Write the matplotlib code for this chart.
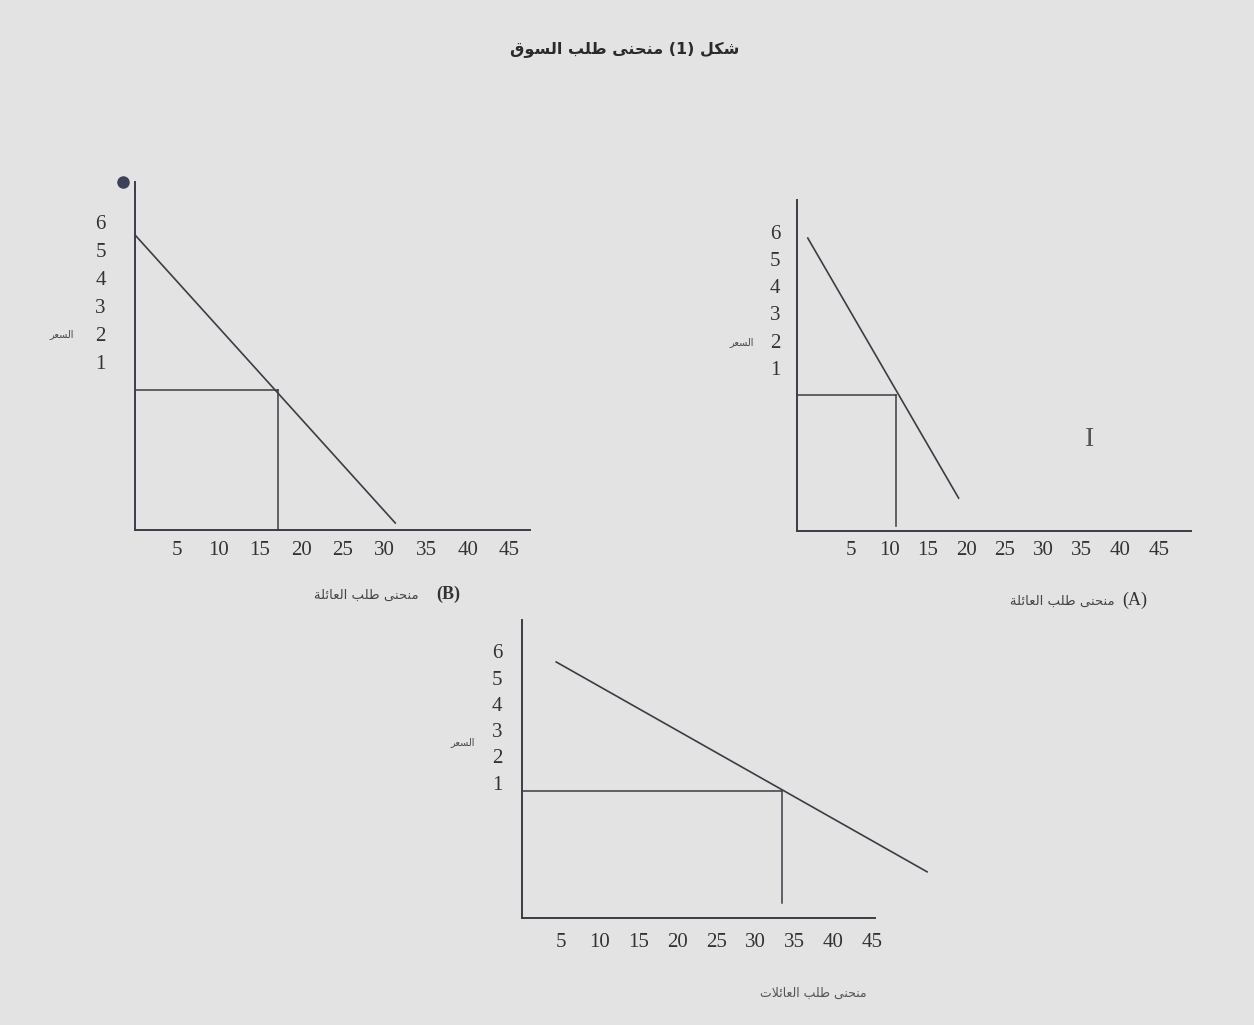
import matplotlib.pyplot as plt

# Arabic text needs shaping by hand (matplotlib draws glyphs left to right, unjoined)
FORMS = {
    'ا': ('\uFE8D', '\uFE8E', None, None),
    'ب': ('\uFE8F', '\uFE90', '\uFE91', '\uFE92'),
    'ت': ('\uFE95', '\uFE96', '\uFE97', '\uFE98'),
    'ة': ('\uFE93', '\uFE94', None, None),
    'ح': ('\uFEA1', '\uFEA2', '\uFEA3', '\uFEA4'),
    'ر': ('\uFEAD', '\uFEAE', None, None),
    'س': ('\uFEB1', '\uFEB2', '\uFEB3', '\uFEB4'),
    'ش': ('\uFEB5', '\uFEB6', '\uFEB7', '\uFEB8'),
    'ط': ('\uFEC1', '\uFEC2', '\uFEC3', '\uFEC4'),
    'ع': ('\uFEC9', '\uFECA', '\uFECB', '\uFECC'),
    'ق': ('\uFED5', '\uFED6', '\uFED7', '\uFED8'),
    'ك': ('\uFED9', '\uFEDA', '\uFEDB', '\uFEDC'),
    'ل': ('\uFEDD', '\uFEDE', '\uFEDF', '\uFEE0'),
    'م': ('\uFEE1', '\uFEE2', '\uFEE3', '\uFEE4'),
    'ن': ('\uFEE5', '\uFEE6', '\uFEE7', '\uFEE8'),
    'و': ('\uFEED', '\uFEEE', None, None),
    'ى': ('\uFEEF', '\uFEF0', None, None),
    'ئ': ('\uFE89', '\uFE8A', '\uFE8B', '\uFE8C'),
}


def shape_word(w):
    # lam + alef ligature
    chars = []
    i = 0
    while i < len(w):
        if w[i] == 'ل' and i + 1 < len(w) and w[i + 1] == 'ا':
            chars.append('LA')
            i += 2
        else:
            chars.append(w[i])
            i += 1
    out = []
    for k, c in enumerate(chars):
        prev = chars[k - 1] if k > 0 else None
        joins_prev = prev is not None and (prev in FORMS and FORMS[prev][2] is not None)
        if c == 'LA':
            out.append('\uFEFC' if joins_prev else '\uFEFB')
            continue
        iso, fin, ini, med = FORMS[c]
        nxt = chars[k + 1] if k + 1 < len(chars) else None
        joins_next = nxt is not None and ini is not None
        if joins_prev and joins_next:
            out.append(med)
        elif joins_prev:
            out.append(fin)
        elif joins_next:
            out.append(ini)
        else:
            out.append(iso)
    return ''.join(out)


def ar(text):
    words = []
    for w in text.split(' '):
        if w and w[0] in FORMS:
            words.append(shape_word(w)[::-1])
        else:
            words.append(w)
    return ' '.join(reversed(words))


# ---- data ----
price_ticks = [1, 2, 3, 4, 5, 6]
qty_ticks = [5, 10, 15, 20, 25, 30, 35, 40, 45]

# family B (left panel)
demand_b_q = [0.0, 31.3]
demand_b_p = [5.54, -4.75]
eq_b_q, eq_b_p, drop_b = 17.2, 0.0, -5.0

# family A (right panel)
demand_a_q = [-0.6, 19.0]
demand_a_p = [5.77, -3.79]
eq_a_q, eq_a_p, drop_a = 10.9, 0.0, -4.8

# all families (bottom panel)
demand_c_q = [4.4, 52.1]
demand_c_p = [5.6, -2.4]
eq_c_q, eq_c_p, drop_c = 33.5, 0.7, -3.6

title = 'شكل (1) منحنى طلب السوق'
ylab = 'السعر'
lab_b = 'منحنى طلب العائلة'
lab_a = 'منحنى طلب العائلة'
lab_c = 'منحنى طلب العائلات'

W, H = 1254, 1025
ink = '#3a3d45'
bg = '#e3e3e3'

fig = plt.figure(figsize=(W / 100, H / 100), dpi=100, facecolor=bg)


def px_axes(left, right, top, bottom):
    return fig.add_axes([left / W, (H - bottom) / H, (right - left) / W, (bottom - top) / H])


def draw_panel(ax, q, p, eq_q, eq_p, drop, xlim, ylim, ypad, xpad, ylab_xy):
    ax.set_facecolor('none')
    ax.set_xlim(*xlim)
    ax.set_ylim(*ylim)
    for s in ['top', 'right']:
        ax.spines[s].set_visible(False)
    for s in ['left', 'bottom']:
        ax.spines[s].set_color(ink)
        ax.spines[s].set_linewidth(1.4)
    ax.plot(q, p, color=ink, lw=1.2, clip_on=False)
    ax.plot([xlim[0], eq_q], [eq_p, eq_p], color=ink, lw=1.1, clip_on=False)
    ax.plot([eq_q, eq_q], [eq_p, drop], color=ink, lw=1.1, clip_on=False)
    ax.set_xticks(qty_ticks)
    ax.set_yticks(price_ticks)
    ax.tick_params(axis='y', length=0, pad=ypad, labelsize=15, labelcolor='#333333')
    ax.tick_params(axis='x', length=0, pad=xpad, labelsize=15, labelcolor='#333333')
    for t in ax.get_xticklabels() + ax.get_yticklabels():
        t.set_fontfamily('Liberation Serif')
    ax.set_ylabel(ar(ylab), rotation=0, fontsize=7, color='#444444',
                  fontfamily='DejaVu Sans')
    ax.yaxis.set_label_coords(*ylab_xy)


ax_b = px_axes(135, 530, 182, 530)
draw_panel(ax_b, demand_b_q, demand_b_p, eq_b_q, eq_b_p, drop_b,
           (0, 47.5), (-5.0, 7.43), 21, 8, (-0.185, 0.55))
ax_b.plot([-1.4], [7.43], 'o', color='#3c4258', ms=8, clip_on=False)

ax_a = px_axes(797, 1191, 200, 531)
draw_panel(ax_a, demand_a_q, demand_a_p, eq_a_q, eq_a_p, drop_a,
           (-2.0, 49.2), (-5.0, 7.17), 12, 7.5, (-0.14, 0.555))

ax_c = px_axes(522, 875, 620, 918)
draw_panel(ax_c, demand_c_q, demand_c_p, eq_c_q, eq_c_p, drop_c,
           (0, 45.4), (-4.16, 7.2), 14, 11, (-0.167, 0.575))

# titles and captions
fig.text(625 / W, 1 - 50 / H, ar(title), ha='center', va='center',
         fontsize=11.5, fontweight='bold', color='#2a2a2a', fontfamily='DejaVu Sans')
fig.text(366 / W, 1 - 595 / H, ar(lab_b), ha='center', va='center',
         fontsize=9.5, color='#444444', fontfamily='DejaVu Sans')
fig.text(448 / W, 1 - 594 / H, '(B)', ha='center', va='center',
         fontsize=13, fontweight='bold', color='#333333', fontfamily='Liberation Serif')
fig.text(1062 / W, 1 - 601 / H, ar(lab_a), ha='center', va='center',
         fontsize=9.5, color='#444444', fontfamily='DejaVu Sans')
fig.text(1135 / W, 1 - 600 / H, '(A)', ha='center', va='center',
         fontsize=13, color='#333333', fontfamily='Liberation Serif')
fig.text(813 / W, 1 - 993 / H, ar(lab_c), ha='center', va='center',
         fontsize=9, color='#555555', fontfamily='DejaVu Sans')

# text cursor visible in the photographed screen
fig.text(1090 / W, 1 - 440 / H, 'I', ha='center', va='center',
         fontsize=20, color='#555555', fontfamily='Liberation Serif')

fig.savefig('out.png', dpi=100, facecolor=bg)
